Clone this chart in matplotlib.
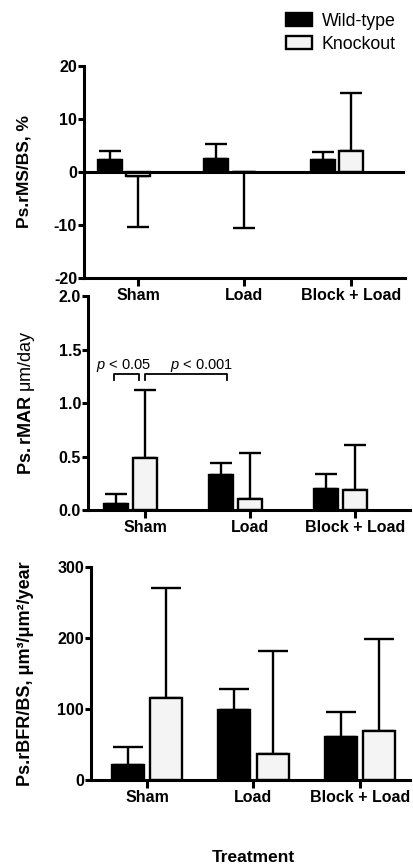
import matplotlib
matplotlib.use("Agg")
import matplotlib.pyplot as plt
from matplotlib.patches import Patch
import numpy as np

plt.rcParams["font.family"] = ["Liberation Sans", "DejaVu Sans"]
plt.rcParams["mathtext.fontset"] = "custom"
plt.rcParams["mathtext.rm"] = "Liberation Sans"
plt.rcParams["mathtext.bf"] = "Liberation Sans:bold"
plt.rcParams["mathtext.it"] = "Liberation Sans:italic"
plt.rcParams["axes.unicode_minus"] = False

# ── data ──
groups = ["Sham", "Load", "Block + Load"]

ms_wt = [2.3, 2.5, 2.2]
ms_wt_sd = [1.7, 2.7, 1.6]
ms_ko = [-0.8, -0.1, 4.0]
ms_ko_sd = [9.5, 10.4, 10.9]

mar_wt = [0.06, 0.33, 0.20]
mar_wt_sd = [0.09, 0.11, 0.14]
mar_ko = [0.49, 0.10, 0.19]
mar_ko_sd = [0.63, 0.43, 0.42]

bfr_wt = [21, 99, 60]
bfr_wt_sd = [26, 29, 36]
bfr_ko = [115, 36, 69]
bfr_ko_sd = [155, 145, 130]

KO_FILL = "#f4f4f4"
LW = 2.2
TICK_FS = 11.5
LABEL_FS = 12.5


def one_sided(means, sds):
    means = np.asarray(means, float)
    sds = np.asarray(sds, float)
    lower = np.where(means < 0, sds, 0)
    upper = np.where(means >= 0, sds, 0)
    return [lower, upper]


def draw_panel(ax, wt, wt_sd, ko, ko_sd, offsets, width, ylim, yticks, xlim, capsize):
    x = np.arange(len(groups))
    for xs, vals, sds, fc in [(x + offsets[0], wt, wt_sd, "black"),
                              (x + offsets[1], ko, ko_sd, KO_FILL)]:
        ax.errorbar(xs, vals, yerr=one_sided(vals, sds), fmt="none", ecolor="black",
                    elinewidth=1.7, capsize=capsize, capthick=1.7, zorder=1)
        ax.bar(xs, vals, width=width, color=fc, edgecolor="black", linewidth=1.7, zorder=2)
    ax.set_xlim(*xlim)
    ax.set_ylim(*ylim)
    ax.set_yticks(yticks)
    ax.set_xticks(x)
    ax.set_xticklabels(groups, fontsize=TICK_FS, fontweight="bold")
    for lab in ax.get_yticklabels():
        lab.set_fontweight("bold")
        lab.set_fontsize(TICK_FS)
    ax.patch.set_visible(False)
    for s in ["top", "right"]:
        ax.spines[s].set_visible(False)
    for s in ["left", "bottom"]:
        ax.spines[s].set_linewidth(LW)
    ax.tick_params(axis="y", length=4, width=LW, pad=1)
    ax.tick_params(axis="x", length=6, width=LW, pad=1)


fig = plt.figure(figsize=(4.14, 8.66), dpi=100)

# ── Panel 1: rMS/BS ──
ax1 = fig.add_axes([0.203, 0.679, 0.775, 0.245])
draw_panel(ax1, ms_wt, ms_wt_sd, ms_ko, ms_ko_sd, (-0.265, 0.0), 0.225,
           (-20, 20), [-20, -10, 0, 10, 20], (-0.507, 2.507), 8)
ax1.axhline(0, color="black", linewidth=LW, zorder=3)
ax1.set_ylabel("Ps.rMS/BS, %", fontsize=LABEL_FS, fontweight="bold")
ax1.yaxis.set_label_coords(-0.165, 0.5)

# ── Panel 2: rMAR ──
ax2 = fig.add_axes([0.2126, 0.411, 0.777, 0.247])
draw_panel(ax2, mar_wt, mar_wt_sd, mar_ko, mar_ko_sd, (-0.275, 0.0), 0.225,
           (0, 2.0), [0.0, 0.5, 1.0, 1.5, 2.0], (-0.543, 2.52), 8)
ax2.set_yticklabels(["0.0", "0.5", "1.0", "1.5", "2.0"], fontweight="bold", fontsize=TICK_FS)
ax2.set_ylabel(r"$\mathbf{Ps.rMAR}$ μm/day", fontsize=LABEL_FS + 0.5)
ax2.yaxis.set_label_coords(-0.16, 0.5)

# significance brackets
xw = np.arange(len(groups)) - 0.275
xk = np.arange(len(groups)) + 0.0
yb, tip = 1.27, 0.055
ax2.plot([xw[0] - 0.02, xw[0] - 0.02, xk[0] - 0.06, xk[0] - 0.06],
         [yb - tip, yb, yb, yb - tip], color="black", lw=1.3)
ax2.plot([xk[0] + 0.0, xk[0] + 0.0, xw[1] + 0.06, xw[1] + 0.06],
         [yb - tip, yb, yb, yb - tip], color="black", lw=1.3)
ax2.text(-0.21, 1.355, r"$\mathit{p}$ < 0.05", ha="center", va="center", fontsize=10.5)
ax2.text(0.54, 1.355, r"$\mathit{p}$ < 0.001", ha="center", va="center", fontsize=10.5)

# ── Panel 3: rBFR/BS ──
ax3 = fig.add_axes([0.22, 0.0993, 0.77, 0.246])
draw_panel(ax3, bfr_wt, bfr_wt_sd, bfr_ko, bfr_ko_sd, (-0.18, 0.18), 0.30,
           (0, 300), [0, 100, 200, 300], (-0.526, 2.47), 11)
ax3.set_ylabel("Ps.rBFR/BS, μm³/μm²/year", fontsize=LABEL_FS + 0.5, fontweight="bold")
ax3.yaxis.set_label_coords(-0.18, 0.5)

fig.text(253 / 414, 1 - 858 / 866, "Treatment", ha="center", va="center",
         fontsize=LABEL_FS, fontweight="bold")

legend_handles = [
    Patch(facecolor="black", edgecolor="black", linewidth=1.7, label="Wild-type"),
    Patch(facecolor=KO_FILL, edgecolor="black", linewidth=1.7, label="Knockout"),
]
fig.legend(handles=legend_handles, loc="upper left",
           bbox_to_anchor=(286 / 414, 1 - 13 / 866), frameon=False, fontsize=12.8,
           handlelength=1.45, handleheight=0.75, handletextpad=0.55, labelspacing=0.32,
           borderaxespad=0, borderpad=0)

fig.savefig("out.png", dpi=100)
